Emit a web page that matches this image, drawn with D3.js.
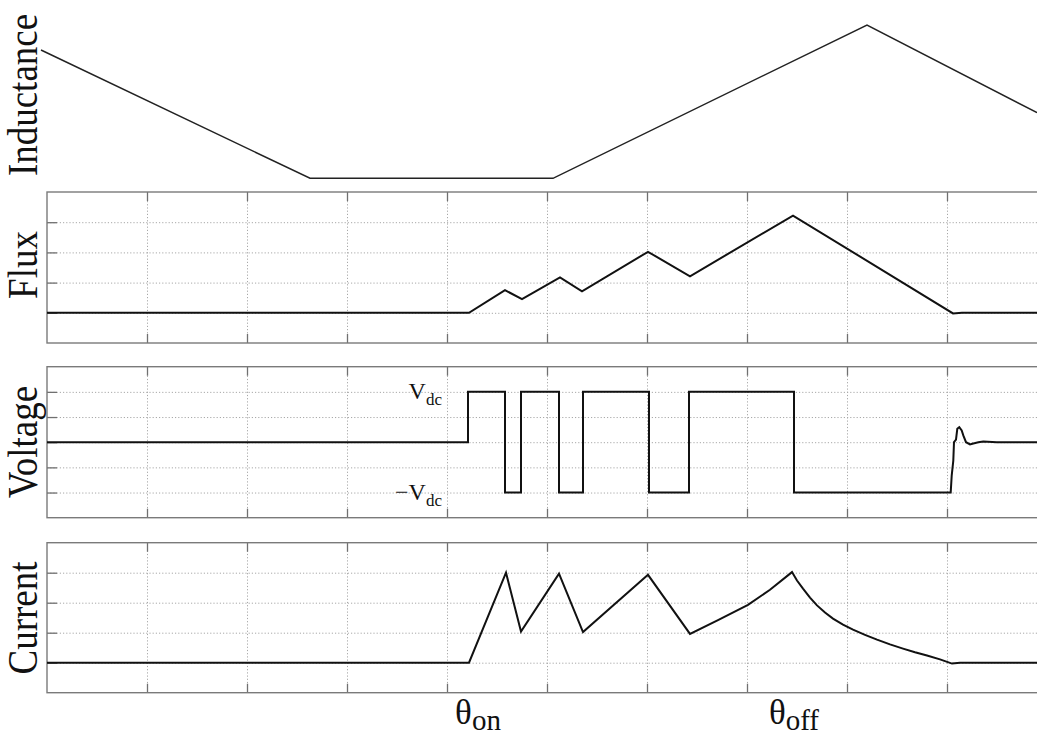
<!DOCTYPE html>
<html>
<head>
<meta charset="utf-8">
<script src="https://cdn.jsdelivr.net/npm/d3@7"></script>
<style>
  body { margin: 0; background: #fff; }
  text { font-family: "Liberation Serif", "Times New Roman", serif; fill: #111; }
  .grid line { stroke: #a8a8a8; stroke-width: 1; stroke-dasharray: 1.2, 2; }
  .grid path { display: none; }
  .tick-in line { stroke: #707070; stroke-width: 1.3; }
  .tick-in path { display: none; }
  .tick-in text { display: none; }
</style>
</head>
<body>
<div id="chart"></div>
<script>
// rotor angle axis (one unit = one grid division)
const xTicks = [1, 2, 3, 4, 5, 6, 7, 8, 9]
const thetaOn = 4.21
const thetaOff = 7.47

// inductance profile
const indAngle = [-0.06, 2.63, 5.06, 8.2, 9.9]
const indValue = [0.837, 0, 0, 1, 0.428]

// flux
const fluxAngle = [0, 4.22, 4.58, 4.75, 5.13, 5.35, 6.01, 6.43, 7.46, 9.06, 9.15, 9.9]
const fluxValue = [0, 0, 0.75, 0.45, 1.17, 0.71, 2.02, 1.21, 3.22, -0.02, 0, 0]
const fluxTicks = [0, 1, 2, 3]

// voltage (Vdc = 2)
const voltAngle = [0, 4.21, 4.21, 4.58, 4.58, 4.74, 4.74, 5.12, 5.12, 5.36, 5.36, 6.02, 6.02, 6.42, 6.42, 7.47, 7.47,
  9.037, 9.047, 9.063, 9.07, 9.09, 9.103, 9.123, 9.147, 9.163, 9.19, 9.23, 9.263, 9.313, 9.363, 9.497, 9.9]
const voltValue = [0, 0, 2, 2, -2, -2, 2, 2, -2, -2, 2, 2, -2, -2, 2, 2, -2,
  -2, -1.33, -0.73, 0, 0.1, 0.53, 0.6, 0.47, 0.27, 0, -0.09, -0.05, 0, 0.03, 0, 0]
const voltTicks = [-2, -1, 0, 1, 2]

// current
const currAngle = [0, 4.22, 4.59, 4.74, 5.12, 5.36, 6.01, 6.43, 6.71, 7.01, 7.23, 7.45,
  7.50, 7.56, 7.63, 7.70, 7.78, 7.86, 7.96, 8.06, 8.18, 8.30, 8.43, 8.56, 8.68, 8.80, 8.93, 9.05, 9.13, 9.9]
const currValue = [0, 0, 3.0, 1.04, 2.97, 1.02, 2.93, 0.96, 1.42, 1.93, 2.43, 3.02,
  2.74, 2.47, 2.17, 1.91, 1.67, 1.47, 1.27, 1.1, 0.93, 0.77, 0.61, 0.47, 0.35, 0.24, 0.11, -0.03, 0, 0]
const currTicks = [0, 1, 2, 3]

const W = 1037, H = 738
const left = 47

const svg = d3.select("#chart").append("svg")
  .attr("width", W)
  .attr("height", H)

const x = d3.scaleLinear().domain([0, 10]).range([left, left + 1000])

function zip(a, b) { return a.map((d, i) => [d, b[i]]) }

function sideLabel(label, cy) {
  svg.append("text")
    .attr("transform", `translate(37,${cy}) scale(1.12,1) rotate(-90)`)
    .attr("text-anchor", "middle")
    .style("font-size", "37px")
    .text(label)
}

// top panel: inductance, no frame
const yInd = d3.scaleLinear().domain([0, 1]).range([178.3, 25])
svg.append("path")
  .datum(zip(indAngle, indValue))
  .attr("fill", "none")
  .attr("stroke", "#222")
  .attr("stroke-width", 1.5)
  .attr("d", d3.line().x(d => x(d[0])).y(d => yInd(d[1])))
sideLabel("Inductance", 95)

// boxed panels
function panel(top, bottom, domain, ticks, angle, value, label, labelY) {
  const y = d3.scaleLinear().domain(domain).range([bottom, top])
  const h = bottom - top
  const g = svg.append("g")

  g.append("g").attr("class", "grid")
    .attr("transform", `translate(0,${bottom})`)
    .call(d3.axisBottom(x).tickValues(xTicks).tickSize(-h).tickFormat(""))
  g.append("g").attr("class", "grid")
    .attr("transform", `translate(${left},0)`)
    .call(d3.axisLeft(y).tickValues(ticks).tickSize(-(W - left)).tickFormat(""))

  // short solid ticks on the inside of the frame
  g.append("g").attr("class", "tick-in")
    .attr("transform", `translate(0,${bottom})`)
    .call(d3.axisBottom(x).tickValues(xTicks).tickSize(-9))
  g.append("g").attr("class", "tick-in")
    .attr("transform", `translate(0,${top})`)
    .call(d3.axisTop(x).tickValues(xTicks).tickSize(-9))
  g.append("g").attr("class", "tick-in")
    .attr("transform", `translate(${left},0)`)
    .call(d3.axisLeft(y).tickValues(ticks).tickSize(-10))

  g.append("rect")
    .attr("x", x(0)).attr("y", top)
    .attr("width", x(10) - x(0)).attr("height", h)
    .attr("fill", "none")
    .attr("stroke", "#7a7a7a")
    .attr("stroke-width", 1.4)

  g.append("path")
    .datum(zip(angle, value))
    .attr("fill", "none")
    .attr("stroke", "#111")
    .attr("stroke-width", 2)
    .attr("d", d3.line().x(d => x(d[0])).y(d => y(d[1])))

  sideLabel(label, labelY)
  return y
}

panel(192, 343, [-1, 4], fluxTicks, fluxAngle, fluxValue, "Flux", 265)
const yV = panel(366.7, 517.7, [-3, 3], voltTicks, voltAngle, voltValue, "Voltage", 442)
panel(542.7, 692.7, [-1, 4], currTicks, currAngle, currValue, "Current", 618)

// Vdc labels
function vdcLabel(level, prefix) {
  const t = svg.append("text")
    .attr("x", x(4) - 5).attr("y", yV(level) + 7)
    .attr("text-anchor", "end")
    .style("font-size", "24px")
  t.append("tspan").text(prefix + "V")
  t.append("tspan").attr("dy", 6).style("font-size", "17px").text("dc")
}
vdcLabel(2, "")
vdcLabel(-2, "\u2212")

// angle labels under the current panel
function thetaLabel(angle, sub, dx) {
  const t = svg.append("text")
    .attr("x", x(angle) + dx).attr("y", 724)
    .attr("text-anchor", "middle")
    .style("font-size", "35px")
  t.append("tspan").text("\u03b8")
  t.append("tspan").attr("dy", 6).style("font-size", "29px").text(sub)
}
thetaLabel(thetaOn, "on", 10)
thetaLabel(thetaOff, "off", 0)
</script>
</body>
</html>
